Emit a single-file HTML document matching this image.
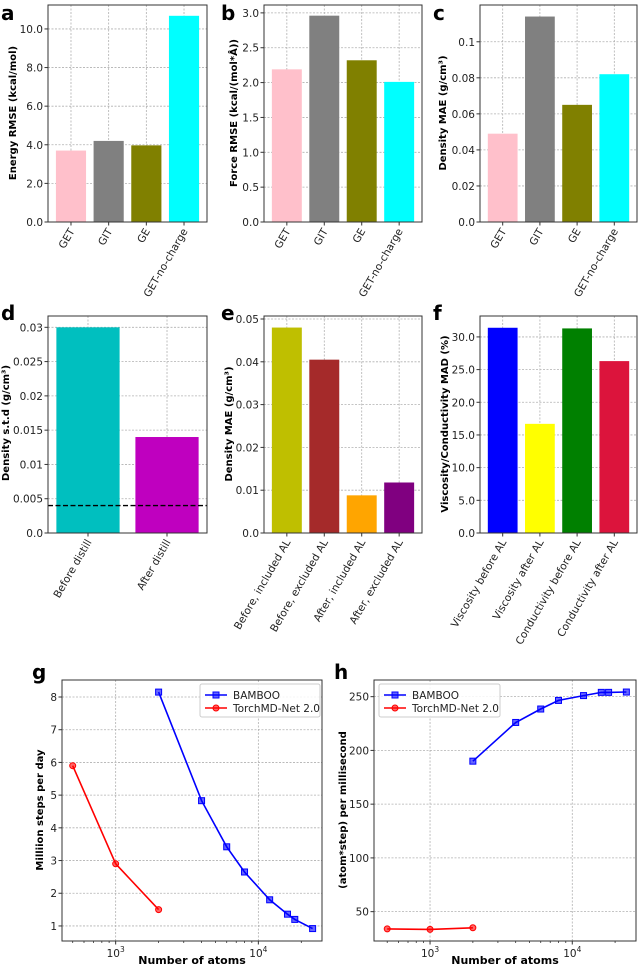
<!DOCTYPE html>
<html><head><meta charset="utf-8"><style>
body{margin:0;background:#fff;}
svg{display:block;font-family:"DejaVu Sans","Liberation Sans",sans-serif;}
</style></head><body>
<svg id="fig" width="640" height="969" viewBox="0 0 640 969" xmlns="http://www.w3.org/2000/svg"></svg>
<script>
// ---- data ----
const aCats=["GET","GIT","GE","GET-no-charge"];
const aVals=[3.7,4.2,3.97,10.68];
const aTicks=[0,2,4,6,8,10];
const aTickLabels=["0.0","2.0","4.0","6.0","8.0","10.0"];
const bCats=["GET","GIT","GE","GET-no-charge"];
const bVals=[2.19,2.96,2.32,2.01];
const bTicks=[0,0.5,1,1.5,2,2.5,3];
const bTickLabels=["0.0","0.5","1.0","1.5","2.0","2.5","3.0"];
const cCats=["GET","GIT","GE","GET-no-charge"];
const cVals=[0.049,0.114,0.065,0.082];
const cTicks=[0,0.02,0.04,0.06,0.08,0.1];
const cTickLabels=["0.0","0.02","0.04","0.06","0.08","0.1"];
const dCats=["Before distill","After distill"];
const dVals=[0.030,0.014];
const dRef=[0.004];
const dTicks=[0,0.005,0.01,0.015,0.02,0.025,0.03];
const dTickLabels=["0.0","0.005","0.01","0.015","0.02","0.025","0.03"];
const eCats=["Before, included AL","Before, excluded AL","After, included AL","After, excluded AL"];
const eVals=[0.048,0.0405,0.0088,0.0118];
const eTicks=[0,0.01,0.02,0.03,0.04,0.05];
const eTickLabels=["0.0","0.01","0.02","0.03","0.04","0.05"];
const fCats=["Viscosity before AL","Viscosity after AL","Conductivity before AL","Conductivity after AL"];
const fVals=[31.4,16.7,31.3,26.3];
const fTicks=[0,5,10,15,20,25,30];
const fTickLabels=["0.0","5.0","10.0","15.0","20.0","25.0","30.0"];
const atomsBamboo=[2000,4000,6000,8000,12000,16000,18000,24000];
const gBamboo=[8.15,4.83,3.42,2.65,1.8,1.36,1.2,0.92];
const atomsTorch=[500,1000,2000];
const gTorch=[5.9,2.9,1.5];
const gTicks=[1,2,3,4,5,6,7,8];
const hBamboo=[190,226,238.5,246.5,251,254,254,254.3];
const hTorch=[34,33.5,35];
const hTicks=[50,100,150,200,250];

const NS="http://www.w3.org/2000/svg";
const svg=document.getElementById('fig');
function mk(tag,attrs,parent){const e=document.createElementNS(NS,tag);for(const k in attrs)e.setAttribute(k,attrs[k]);(parent||svg).appendChild(e);return e;}

function letter(t,x,y){
  const e=mk('text',{x:x,y:y,'font-size':20,'font-weight':'bold',fill:'#000'});
  e.textContent=t;
  
  
}
function ylab(t,x,y){
  const e=mk('text',{x:x,y:y,'font-size':10,'font-weight':'bold','text-anchor':'middle',transform:`rotate(-90 ${x} ${y})`,fill:'#000'});
  e.textContent=t;
  
  
}

function barChart(p){
  const g=mk('g',{});
  
  
  const n=p.cats.length;
  const step=(p.R-p.L)/(n-1+2*p.m);
  const xc=i=>p.L+(i+p.m)*step;
  const y=v=>p.B-(v/p.ymax)*(p.B-p.T);
  const grid=mk('g',{stroke:'#b0b0b0','stroke-width':0.8,'stroke-dasharray':'2,1.5'},g);
  p.ticks.forEach(t=>mk('line',{x1:p.L,x2:p.R,y1:y(t),y2:y(t)},grid));
  p.cats.forEach((c,i)=>mk('line',{x1:xc(i),x2:xc(i),y1:p.T,y2:p.B},grid));
  p.vals.forEach((v,i)=>{
    const r=mk('rect',{x:xc(i)-0.4*step,y:y(v),width:0.8*step,height:p.B-y(v),fill:p.colors[i]},g);
    
    
  });
  if(p.ref){p.ref.forEach(v=>{
    const l=mk('line',{x1:p.L,x2:p.R,y1:y(v),y2:y(v),stroke:'#000','stroke-width':1.3,'stroke-dasharray':'5,2.5'},g);
    
    
  });}
  mk('rect',{x:p.L,y:p.T,width:p.R-p.L,height:p.B-p.T,fill:'none',stroke:'#333','stroke-width':1},g);
  p.ticks.forEach((t,i)=>{
    mk('line',{x1:p.L-3.5,x2:p.L,y1:y(t),y2:y(t),stroke:'#333'},g);
    const e=mk('text',{x:p.L-5,y:y(t)+4,'font-size':10.5,'text-anchor':'end',fill:'#222'},g);
    e.textContent=p.tickLabels[i];
    
    
  });
  p.cats.forEach((c,i)=>{
    mk('line',{x1:xc(i),x2:xc(i),y1:p.B,y2:p.B+3.5,stroke:'#333'},g);
    const tx=xc(i)+4, ty=p.B+9;
    const e=mk('text',{x:tx,y:ty,'font-size':10.5,'text-anchor':'end',transform:`rotate(-60 ${tx} ${ty})`,fill:'#222'},g);
    e.textContent=c;
    
    
  });
}

function logChart(p){
  const g=mk('g',{});
  
  
  const x=v=>p.L+(Math.log10(v)-p.lx0)/(p.lx1-p.lx0)*(p.R-p.L);
  const y=v=>p.B-(v-p.y0)/(p.y1-p.y0)*(p.B-p.T);
  const grid=mk('g',{stroke:'#b0b0b0','stroke-width':0.8,'stroke-dasharray':'2,1.5'},g);
  p.ticks.forEach(t=>mk('line',{x1:p.L,x2:p.R,y1:y(t),y2:y(t)},grid));
  [1000,10000].forEach(t=>mk('line',{x1:x(t),x2:x(t),y1:p.T,y2:p.B},grid));
  mk('rect',{x:p.L,y:p.T,width:p.R-p.L,height:p.B-p.T,fill:'none',stroke:'#333','stroke-width':1},g);
  p.ticks.forEach(t=>{
    mk('line',{x1:p.L-3.5,x2:p.L,y1:y(t),y2:y(t),stroke:'#333'},g);
    const e=mk('text',{x:p.L-5,y:y(t)+4,'font-size':10.5,'text-anchor':'end',fill:'#222'},g);
    e.textContent=String(t);
    
    
  });
  for(let d=100;d<=10000;d*=10){for(let k=2;k<=9;k++){const v=d*k;const lv=Math.log10(v);if(lv>p.lx0&&lv<p.lx1)mk('line',{x1:x(v),x2:x(v),y1:p.B,y2:p.B+2,stroke:'#333','stroke-width':0.8},g);}}
  [[1000,'3'],[10000,'4']].forEach(([t,e])=>{
    mk('line',{x1:x(t),x2:x(t),y1:p.B,y2:p.B+3.5,stroke:'#333'},g);
    const tt=mk('text',{x:x(t),y:p.B+16,'font-size':10.5,'text-anchor':'middle',fill:'#222'},g);
    tt.innerHTML='10<tspan font-size="7.5" dy="-5">'+e+'</tspan>';
    
    
  });
  const xl=mk('text',{x:(p.L+p.R)/2,y:964,'font-size':11,'font-weight':'bold','text-anchor':'middle',fill:'#000'},g);
  xl.textContent='Number of atoms';
  
  
  p.series.forEach(s=>{
    const pts=s.xs.map((v,i)=>x(v).toFixed(1)+','+y(s.ys[i]).toFixed(1)).join(' ');
    const l=mk('polyline',{points:pts,fill:'none',stroke:s.color,'stroke-width':1.6},g);
    
    
    s.xs.forEach((v,i)=>{
      let m;
      if(s.marker==='s')m=mk('rect',{x:x(v)-3,y:y(s.ys[i])-3,width:6,height:6,fill:s.color,'fill-opacity':0.6,stroke:s.color},g);
      else m=mk('circle',{cx:x(v),cy:y(s.ys[i]),r:3,fill:s.color,'fill-opacity':0.6,stroke:s.color},g);
      
      
    });
  });
  const lg=mk('g',{},g);
  
  
  mk('rect',{x:p.lgx,y:684,width:p.lgw,height:33,rx:2,fill:'#fff','fill-opacity':0.85,stroke:'#ccc'},lg);
  p.series.forEach((s,i)=>{
    const yy=695+i*13;
    mk('line',{x1:p.lgx+5,x2:p.lgx+27,y1:yy,y2:yy,stroke:s.color,'stroke-width':1.6},lg);
    if(s.marker==='s')mk('rect',{x:p.lgx+13,y:yy-3,width:6,height:6,fill:s.color,'fill-opacity':0.6,stroke:s.color},lg);
    else mk('circle',{cx:p.lgx+16,cy:yy,r:3,fill:s.color,'fill-opacity':0.6,stroke:s.color},lg);
    const t=mk('text',{x:p.lgx+33,y:yy+4,'font-size':10.5,fill:'#222'},lg);
    t.textContent=s.label;
    
    
  });
}

barChart({name:'panel-a',L:48,R:207,T:5,B:222,ymax:11.24,m:0.61,cats:aCats,vals:aVals,ticks:aTicks,tickLabels:aTickLabels,colors:['#ffc0cb','#808080','#808000','#00ffff']});
barChart({name:'panel-b',L:264,R:422,T:5,B:222,ymax:3.113,m:0.61,cats:bCats,vals:bVals,ticks:bTicks,tickLabels:bTickLabels,colors:['#ffc0cb','#808080','#808000','#00ffff']});
barChart({name:'panel-c',L:480,R:637,T:5,B:222,ymax:0.1204,m:0.61,cats:cCats,vals:cVals,ticks:cTicks,tickLabels:cTickLabels,colors:['#ffc0cb','#808080','#808000','#00ffff']});
barChart({name:'panel-d',L:48,R:207,T:316,B:533,ymax:0.03165,m:0.506,cats:dCats,vals:dVals,ref:dRef,ticks:dTicks,tickLabels:dTickLabels,colors:['#00bfbf','#bf00bf']});
barChart({name:'panel-e',L:264,R:422,T:316,B:533,ymax:0.0507,m:0.61,cats:eCats,vals:eVals,ticks:eTicks,tickLabels:eTickLabels,colors:['#bfbf00','#a52a2a','#ffa500','#800080']});
barChart({name:'panel-f',L:480,R:637,T:316,B:533,ymax:33.2,m:0.61,cats:fCats,vals:fVals,ticks:fTicks,tickLabels:fTickLabels,colors:['#0000ff','#ffff00','#008000','#dc143c']});

logChart({name:'panel-g',L:62,R:322,T:680,B:941,lx0:2.624,lx1:4.446,y0:0.54,y1:8.52,ticks:gTicks,lgx:200,lgw:120,
  series:[{key:'bamboo',label:'BAMBOO',color:'#0000ff',marker:'s',xs:atomsBamboo,ys:gBamboo},
          {key:'torchmd',label:'TorchMD-Net 2.0',color:'#ff0000',marker:'o',xs:atomsTorch,ys:gTorch}]});
logChart({name:'panel-h',L:374,R:636,T:680,B:941,lx0:2.606,lx1:4.448,y0:22.7,y1:265.5,ticks:hTicks,lgx:379,lgw:121,
  series:[{key:'bamboo',label:'BAMBOO',color:'#0000ff',marker:'s',xs:atomsBamboo,ys:hBamboo},
          {key:'torchmd',label:'TorchMD-Net 2.0',color:'#ff0000',marker:'o',xs:atomsTorch,ys:hTorch}]});

ylab('Energy RMSE (kcal/mol)',16,113);
ylab('Force RMSE (kcal/(mol*Å))',237,113);
ylab('Density MAE (g/cm³)',446,113);
ylab('Density s.t.d (g/cm³)',9,423);
ylab('Density MAE (g/cm³)',232,424);
ylab('Viscosity/Conductivity MAD (%)',448,424);
ylab('Milliion steps per day',43,810);
ylab('(atom*step) per millisecond',346,810);

letter('a',1,20);letter('b',221,20);letter('c',433,20);
letter('d',1,320);letter('e',221,320);letter('f',433,320);
letter('g',32,679);letter('h',334,679);
</script>
</body></html>
